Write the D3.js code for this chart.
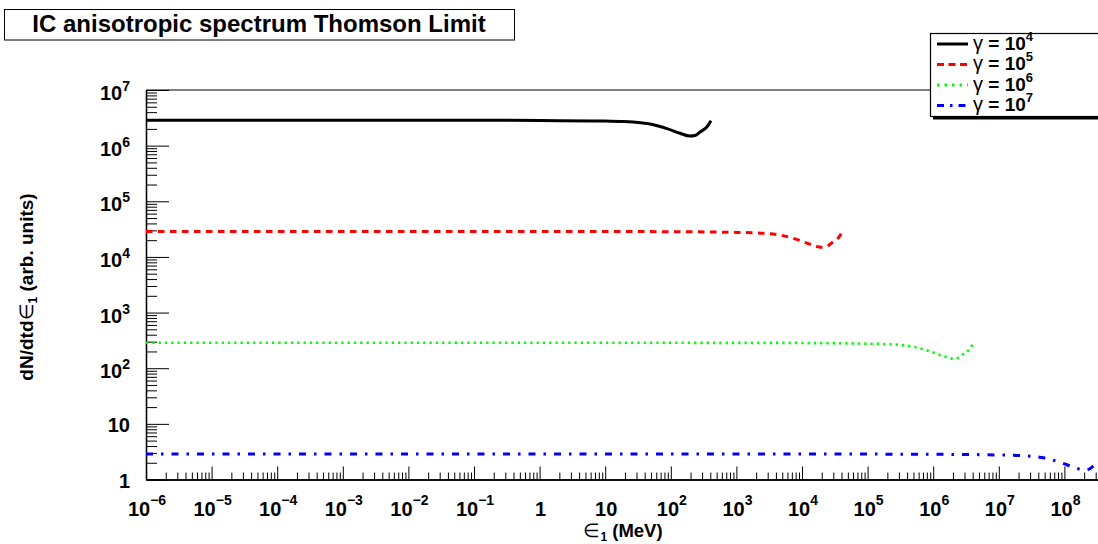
<!DOCTYPE html>
<html>
<head>
<meta charset="utf-8">
<script src="https://cdn.jsdelivr.net/npm/d3@7/dist/d3.min.js"></script>
<style>
  html, body { margin: 0; padding: 0; background: #fff; }
  svg { display: block; font-family: "Liberation Sans", Arial, Helvetica, sans-serif; }
</style>
</head>
<body>
<div id="chart"></div>
<script>
// IC anisotropic spectrum, Thomson limit: four gamma curves on log-log axes
// values (energy in MeV, dN/dtde1 in arb. units)
const gammaExp = ["4", "5", "6", "7"];
const colors = ["#000000", "#ff0000", "#00ff00", "#0000ff"];

const curveG4 = [
  [1e-6, 2.87e6], [1e-3, 2.87e6], [0.1, 2.86e6], [1, 2.84e6], [10, 2.76e6], [16.8, 2.72e6],
  [26.6, 2.66e6], [48.2, 2.45e6], [87.5, 2.02e6], [138, 1.67e6], [196, 1.49e6], [234, 1.52e6],
  [279, 1.76e6], [357, 2.19e6], [410, 2.81e6]];
const curveG5 = [
  [1e-6, 2.87e4], [0.1, 2.87e4], [10, 2.86e4], [100, 2.84e4], [1000, 2.76e4], [1680, 2.72e4],
  [2660, 2.66e4], [4820, 2.45e4], [8750, 2.02e4], [1.38e4, 1.67e4], [1.96e4, 1.49e4], [2.34e4, 1.52e4],
  [2.79e4, 1.76e4], [3.57e4, 2.19e4], [4.1e4, 2.81e4]];
const curveG6 = [
  [1e-6, 287], [10, 287], [1000, 286], [1e4, 284], [1e5, 276], [1.68e5, 272],
  [2.66e5, 266], [4.82e5, 245], [8.75e5, 202], [1.38e6, 167], [1.96e6, 149], [2.34e6, 152],
  [2.79e6, 176], [3.57e6, 219], [4.1e6, 281]];
const curveG7 = [
  [1e-6, 2.87], [1000, 2.87], [1e5, 2.86], [1e6, 2.84], [1e7, 2.76], [1.68e7, 2.72],
  [2.66e7, 2.66], [4.82e7, 2.45], [8.75e7, 2.02], [1.38e8, 1.67], [1.96e8, 1.49], [2.34e8, 1.52],
  [2.79e8, 1.76], [3.57e8, 2.19], [4.1e8, 2.81]];
const curves = [curveG4, curveG5, curveG6, curveG7];

const xMajor = [-6, -5, -4, -3, -2, -1, 0, 1, 2, 3, 4, 5, 6, 7, 8];
const yMajor = [0, 1, 2, 3, 4, 5, 6, 7];

(() => {
  const W = 1098, H = 544;
  const ML = 146, TOP = 90, BOT = 479.5, DEC_X = 65.6;
  const xMax = 5e8;

  const x = d3.scaleLog().domain([1e-6, xMax])
    .range([ML, ML + (Math.log10(xMax) + 6) * DEC_X]);
  const y = d3.scaleLog().domain([1, 1e7]).range([BOT, TOP]);

  const svg = d3.select("#chart").append("svg")
    .attr("width", W).attr("height", H).attr("viewBox", `0 0 ${W} ${H}`);

  // frame top line
  svg.append("line").attr("x1", ML).attr("x2", x(xMax)).attr("y1", TOP).attr("y2", TOP)
    .attr("stroke", "#000").attr("stroke-width", 1.2);

  const minors = (lo, hi, max) => {
    const out = [];
    for (let e = lo; e <= hi; e++) for (let m = 2; m <= 9; m++) {
      const v = m * Math.pow(10, e);
      if (v <= max) out.push(v);
    }
    return out;
  };

  // x axis: ticks point up into the frame
  const gx = svg.append("g").attr("transform", `translate(0,${BOT})`);
  gx.call(d3.axisTop(x).tickValues(xMajor.map(e => Math.pow(10, e)))
    .tickSize(13).tickSizeOuter(0).tickFormat(""));
  gx.append("g").call(d3.axisTop(x).tickValues(minors(-6, 8, xMax))
    .tickSize(7).tickSizeOuter(0).tickFormat(""));
  gx.selectAll("path.domain").attr("stroke-width", 1.3);
  gx.selectAll(".tick line").attr("stroke-width", 1);

  // y axis: ticks point right into the frame
  const gy = svg.append("g").attr("transform", `translate(${ML},0)`);
  gy.call(d3.axisRight(y).tickValues(yMajor.map(e => Math.pow(10, e)))
    .tickSize(23).tickSizeOuter(0).tickFormat(""));
  gy.append("g").call(d3.axisRight(y).tickValues(minors(0, 6, 1e7))
    .tickSize(11).tickSizeOuter(0).tickFormat(""));
  gy.selectAll("path.domain").attr("stroke-width", 1.3);
  gy.selectAll(".tick line").attr("stroke-width", 1);

  // tick labels (10^n with superscript, plain "1" and "10")
  const label = (sel, e, supDy) => {
    if (e === 0) { sel.text("1"); return; }
    if (e === 1) { sel.text("10"); return; }
    sel.append("tspan").text("10");
    sel.append("tspan").attr("dy", supDy).attr("font-size", 14)
      .text(e < 0 ? "\u2212" + (-e) : String(e));
  };
  xMajor.forEach(e => {
    const t = svg.append("text").attr("x", x(Math.pow(10, e)) + 1).attr("y", 516)
      .attr("text-anchor", "middle").attr("font-size", 20).attr("font-weight", "bold");
    label(t, e, -11);
  });
  yMajor.forEach(e => {
    const sup = e > 1;
    const t = svg.append("text").attr("x", 130).attr("y", y(Math.pow(10, e)) + (sup ? 10 : 8.5))
      .attr("text-anchor", "end").attr("font-size", 20).attr("font-weight", "bold");
    label(t, e, -9);
  });

  // axis titles
  const xt = svg.append("text").attr("x", 623).attr("y", 537).attr("text-anchor", "middle")
    .attr("font-size", 18.5).attr("font-weight", "bold");
  xt.append("tspan").attr("font-weight", "normal").text("\u2208");
  xt.append("tspan").attr("font-size", 12).attr("dy", 4).text("1");
  xt.append("tspan").attr("dy", -4).text(" (MeV)");

  const yt = svg.append("text").attr("transform", "translate(33,287) rotate(-90)")
    .attr("text-anchor", "middle").attr("font-size", 19).attr("font-weight", "bold");
  yt.append("tspan").text("dN/dtd");
  yt.append("tspan").attr("font-weight", "normal").text("\u2208");
  yt.append("tspan").attr("font-size", 12).attr("dy", 4).text("1");
  yt.append("tspan").attr("dy", -4).text(" (arb. units)");

  // curves
  const dashes = [null, "6.5,5.5", "2.3,4", "7,8,2.5,8"];
  const line = d3.line().x(p => x(p[0])).y(p => y(p[1])).curve(d3.curveMonotoneX);
  curves.forEach((c, i) => {
    svg.append("path").attr("d", line(c)).attr("fill", "none")
      .attr("stroke", colors[i]).attr("stroke-width", i === 2 ? 2.7 : 3)
      .attr("stroke-dasharray", dashes[i]);
  });

  // title box
  svg.append("rect").attr("x", 4.5).attr("y", 9.5).attr("width", 510).attr("height", 30.5)
    .attr("fill", "#fff").attr("stroke", "#000").attr("stroke-width", 1);
  svg.append("text").attr("x", 259).attr("y", 32).attr("text-anchor", "middle")
    .attr("font-size", 24).attr("font-weight", "bold")
    .text("IC anisotropic spectrum Thomson Limit");

  // legend (box runs past the right edge of the canvas)
  svg.append("rect").attr("x", 933).attr("y", 116).attr("width", 200).attr("height", 3.5)
    .attr("fill", "#000");
  svg.append("rect").attr("x", 930.5).attr("y", 33.5).attr("width", 200).attr("height", 83)
    .attr("fill", "#fff").attr("stroke", "#000").attr("stroke-width", 1.2);
  const legDash = [null, "7,4.5", "2.5,5", "7,6,2.5,6"];
  gammaExp.forEach((g, i) => {
    const base = 49.5 + i * 20.5;
    svg.append("line").attr("x1", 937).attr("x2", 968).attr("y1", base - 5.5).attr("y2", base - 5.5)
      .attr("stroke", colors[i]).attr("stroke-width", 3).attr("stroke-dasharray", legDash[i]);
    const t = svg.append("text").attr("x", 973).attr("y", base)
      .attr("font-size", 19).attr("font-weight", "bold");
    t.append("tspan").attr("font-weight", "normal").attr("font-size", 20).text("\u03b3");
    t.append("tspan").text(" = 10");
    t.append("tspan").attr("font-size", 13).attr("dy", -9).text(g);
  });
})();
</script>
</body>
</html>
